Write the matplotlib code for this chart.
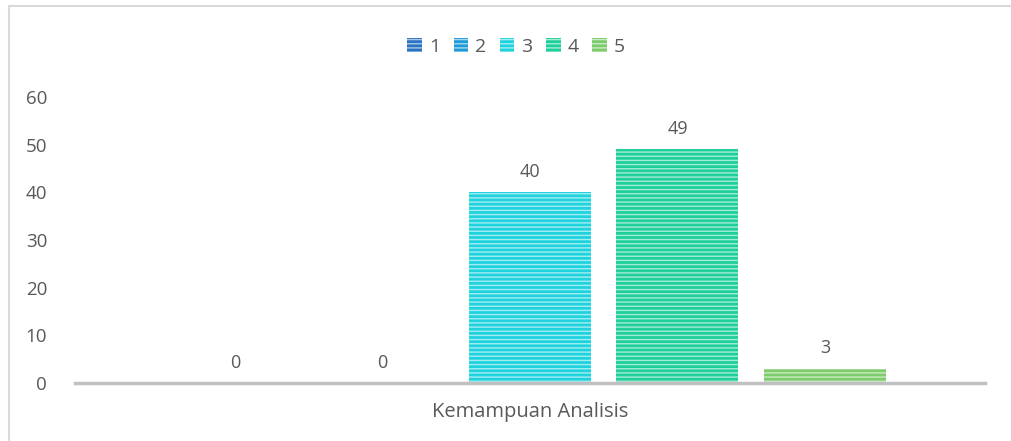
import matplotlib.pyplot as plt
from matplotlib.patches import Patch
from matplotlib.lines import Line2D
import matplotlib.colors as mcolors
import numpy as np

plt.rcParams['font.family'] = ['Open Sans', 'DejaVu Sans']
plt.rcParams['hatch.linewidth'] = 1.0

# Data
category = 'Kemampuan Analisis'
series_names = ['1', '2', '3', '4', '5']
values = [0, 0, 40, 49, 3]
colors = ['#2a72c2', '#1e9bd7', '#1ed3de', '#1ecf9a', '#7dcc6c']
y_ticks = [0, 10, 20, 30, 40, 50, 60]

TEXT = '#595959'


def lighten(c, amt=0.6):
    rgb = np.array(mcolors.to_rgb(c))
    return tuple(rgb + (1 - rgb) * amt)


fig = plt.figure(figsize=(10.11, 4.41), dpi=100)
ax = fig.add_axes([75 / 1011, 1 - 383 / 441, 910 / 1011, (383 - 97) / 441])

# bars side by side in one category group
x = np.arange(len(values)) - (len(values) - 1) / 2
width = 122 / 147.5
for xi, v, c in zip(x, values, colors):
    ax.bar(xi, v, width=width, color=c, edgecolor=lighten(c), linewidth=0, hatch='----')
    ax.text(xi, v + 2.4, str(v), ha='center', va='bottom', fontsize=13, color=TEXT)

ax.set_xlim(-3.085, 3.085)
ax.set_ylim(0, 60)
ax.set_yticks(y_ticks)
ax.set_yticklabels([str(t) for t in y_ticks], fontsize=13.5, color=TEXT)
ax.set_xticks([0])
ax.set_xticklabels([category], fontsize=14.5, color=TEXT)
ax.tick_params(axis='both', length=0)
ax.tick_params(axis='y', pad=20)
ax.tick_params(axis='x', pad=14)

for s in ['top', 'right', 'left']:
    ax.spines[s].set_visible(False)
ax.spines['bottom'].set_color('#c0c0c0')
ax.spines['bottom'].set_linewidth(2.5)

handles = [Patch(facecolor=c, edgecolor=lighten(c), linewidth=0, hatch='----') for c in colors]
fig.legend(handles, series_names, loc='center', bbox_to_anchor=(516 / 1011, 1 - 47 / 441),
           ncol=5, frameon=False, fontsize=14, handlelength=0.75, handleheight=0.75,
           handletextpad=0.35, columnspacing=0.7, labelcolor=TEXT)

# outer border of the chart area
fig.add_artist(Line2D([9 / 1011, 9 / 1011], [0, 1 - 6 / 441], transform=fig.transFigure,
                      color='#d9d9d9', linewidth=1.5))
fig.add_artist(Line2D([9 / 1011, 1], [1 - 6 / 441, 1 - 6 / 441], transform=fig.transFigure,
                      color='#d9d9d9', linewidth=1.5))

fig.savefig('out.png', dpi=100)
